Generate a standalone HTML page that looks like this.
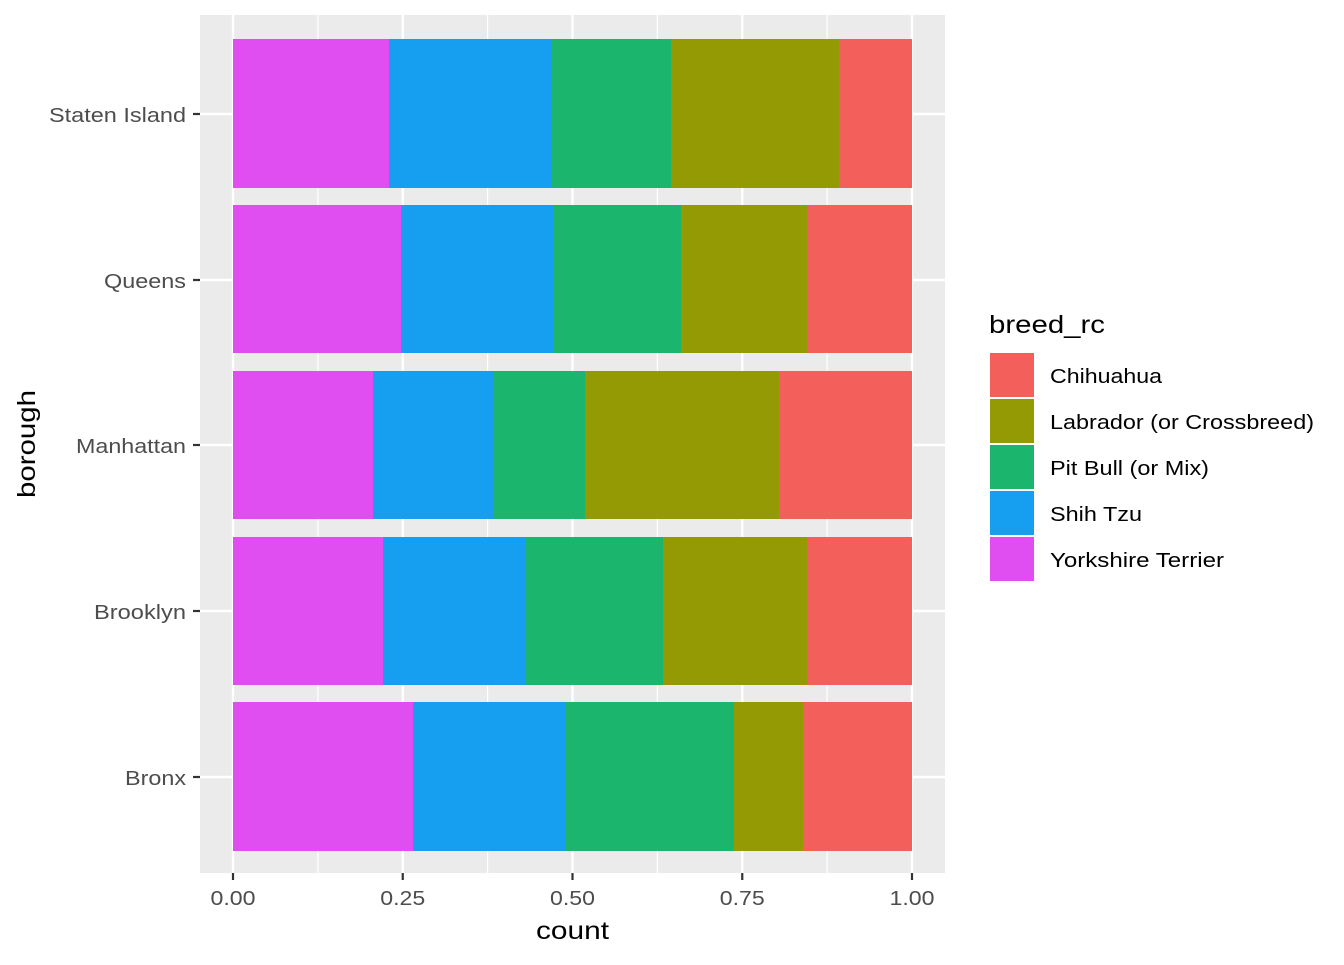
<!DOCTYPE html>
<html><head><style>body{margin:0;background:#fff}</style></head><body>
<svg width="1344" height="960" xmlns="http://www.w3.org/2000/svg" font-family="Liberation Sans, Arial, sans-serif">
<rect x="200" y="15" width="745" height="858" fill="#EBEBEB"/>
<g stroke="#fff" stroke-width="1.2">
<line x1="317.9" x2="317.9" y1="15" y2="873"/><line x1="487.6" x2="487.6" y1="15" y2="873"/><line x1="657.4" x2="657.4" y1="15" y2="873"/><line x1="827.1" x2="827.1" y1="15" y2="873"/>
</g>
<g stroke="#fff" stroke-width="2.4">
<line x1="233" x2="233" y1="15" y2="873"/><line x1="402.75" x2="402.75" y1="15" y2="873"/><line x1="572.5" x2="572.5" y1="15" y2="873"/><line x1="742.25" x2="742.25" y1="15" y2="873"/><line x1="912" x2="912" y1="15" y2="873"/>
<line x1="200" x2="945" y1="114" y2="114"/><line x1="200" x2="945" y1="280" y2="280"/><line x1="200" x2="945" y1="445" y2="445"/><line x1="200" x2="945" y1="611" y2="611"/><line x1="200" x2="945" y1="777" y2="777"/>
</g>
<g>
<rect x="233" y="39" width="156" height="149" fill="#E04DF0"/><rect x="389" y="39" width="162" height="149" fill="#169FF1"/><rect x="551" y="39" width="120" height="149" fill="#1BB56D"/><rect x="671" y="39" width="168" height="149" fill="#939A03"/><rect x="839" y="39" width="73" height="149" fill="#F35F5A"/>
<rect x="233" y="205" width="168" height="148" fill="#E04DF0"/><rect x="401" y="205" width="152" height="148" fill="#169FF1"/><rect x="553" y="205" width="128" height="148" fill="#1BB56D"/><rect x="681" y="205" width="126" height="148" fill="#939A03"/><rect x="807" y="205" width="105" height="148" fill="#F35F5A"/>
<rect x="233" y="371" width="140" height="148" fill="#E04DF0"/><rect x="373" y="371" width="120" height="148" fill="#169FF1"/><rect x="493" y="371" width="92" height="148" fill="#1BB56D"/><rect x="585" y="371" width="194" height="148" fill="#939A03"/><rect x="779" y="371" width="133" height="148" fill="#F35F5A"/>
<rect x="233" y="537" width="150" height="148" fill="#E04DF0"/><rect x="383" y="537" width="142" height="148" fill="#169FF1"/><rect x="525" y="537" width="138" height="148" fill="#1BB56D"/><rect x="663" y="537" width="144" height="148" fill="#939A03"/><rect x="807" y="537" width="105" height="148" fill="#F35F5A"/>
<rect x="233" y="702" width="180" height="149" fill="#E04DF0"/><rect x="413" y="702" width="152" height="149" fill="#169FF1"/><rect x="565" y="702" width="169" height="149" fill="#1BB56D"/><rect x="734" y="702" width="69" height="149" fill="#939A03"/><rect x="803" y="702" width="109" height="149" fill="#F35F5A"/>
</g>
<g stroke="#333" stroke-width="2.2">
<line x1="193" x2="200" y1="114" y2="114"/><line x1="193" x2="200" y1="280" y2="280"/><line x1="193" x2="200" y1="445" y2="445"/><line x1="193" x2="200" y1="611" y2="611"/><line x1="193" x2="200" y1="777" y2="777"/>
<line x1="233" x2="233" y1="873" y2="880"/><line x1="402.75" x2="402.75" y1="873" y2="880"/><line x1="572.5" x2="572.5" y1="873" y2="880"/><line x1="742.25" x2="742.25" y1="873" y2="880"/><line x1="912" x2="912" y1="873" y2="880"/>
</g>
<g font-size="20" fill="#4D4D4D">
<text x="49" y="122" textLength="137" lengthAdjust="spacingAndGlyphs">Staten Island</text>
<text x="104" y="288" textLength="82" lengthAdjust="spacingAndGlyphs">Queens</text>
<text x="76" y="453" textLength="110" lengthAdjust="spacingAndGlyphs">Manhattan</text>
<text x="94" y="619" textLength="92" lengthAdjust="spacingAndGlyphs">Brooklyn</text>
<text x="125" y="785" textLength="61" lengthAdjust="spacingAndGlyphs">Bronx</text>
</g>
<g font-size="20" fill="#4D4D4D">
<text x="210.5" y="905" textLength="45" lengthAdjust="spacingAndGlyphs">0.00</text>
<text x="380.25" y="905" textLength="45" lengthAdjust="spacingAndGlyphs">0.25</text>
<text x="550" y="905" textLength="45" lengthAdjust="spacingAndGlyphs">0.50</text>
<text x="719.75" y="905" textLength="45" lengthAdjust="spacingAndGlyphs">0.75</text>
<text x="889.5" y="905" textLength="45" lengthAdjust="spacingAndGlyphs">1.00</text>
</g>
<text x="536" y="939" font-size="25" textLength="73" lengthAdjust="spacingAndGlyphs">count</text>
<text transform="translate(35,498) rotate(-90)" font-size="25" textLength="108" lengthAdjust="spacingAndGlyphs">borough</text>
<text x="989" y="333" font-size="25" textLength="116" lengthAdjust="spacingAndGlyphs">breed_rc</text>
<g>
<rect x="990" y="353" width="44" height="44" fill="#F35F5A"/><rect x="990" y="399" width="44" height="44" fill="#939A03"/><rect x="990" y="445" width="44" height="44" fill="#1BB56D"/><rect x="990" y="491" width="44" height="44" fill="#169FF1"/><rect x="990" y="537" width="44" height="44" fill="#E04DF0"/>
</g>
<g font-size="20" fill="#000">
<text x="1050" y="383" textLength="112" lengthAdjust="spacingAndGlyphs">Chihuahua</text>
<text x="1050" y="429" textLength="264" lengthAdjust="spacingAndGlyphs">Labrador (or Crossbreed)</text>
<text x="1050" y="475" textLength="159" lengthAdjust="spacingAndGlyphs">Pit Bull (or Mix)</text>
<text x="1050" y="521" textLength="92" lengthAdjust="spacingAndGlyphs">Shih Tzu</text>
<text x="1050" y="567" textLength="174" lengthAdjust="spacingAndGlyphs">Yorkshire Terrier</text>
</g>
</svg>
</body></html>
